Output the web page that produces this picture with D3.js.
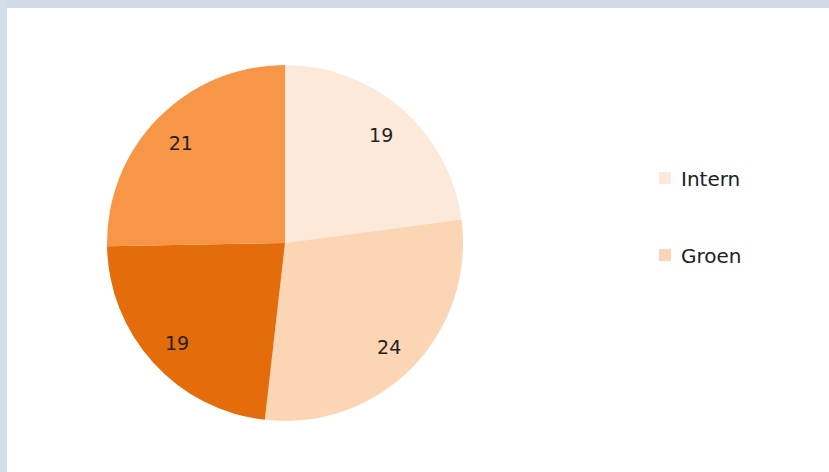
<!DOCTYPE html>
<html>
<head>
<meta charset="utf-8">
<script src="https://cdn.jsdelivr.net/npm/d3@7"></script>
<style>
  html, body { margin: 0; padding: 0; background: #ffffff; }
  svg { display: block; }
</style>
</head>
<body>
<script>
// slices in drawing order, clockwise from 12 o'clock
var categories = ['Intern', 'Groen', 'Cat3', 'Cat4'];
var values = [19, 24, 19, 21];
var colors = ['#fde9d9', '#fcd5b5', '#e46c0a', '#f79646'];
// only the first two legend entries are visible in the picture
var legendItems = ['Intern', 'Groen'];

var width = 829, height = 472;
var cx = 285, cy = 243, radius = 178;

var svg = d3.select('body').append('svg')
    .attr('width', width)
    .attr('height', height);

// frame: light blue band on top and left
svg.append('rect').attr('x', 0).attr('y', 0).attr('width', width).attr('height', height).attr('fill', '#ffffff');
svg.append('rect').attr('x', 0).attr('y', 0).attr('width', width).attr('height', 8).attr('fill', '#cfdae6');
svg.append('rect').attr('x', 0).attr('y', 0).attr('width', 7).attr('height', height).attr('fill', '#d3deea');

var pie = d3.pie().sort(null).value(function (d) { return d; });
var arc = d3.arc().innerRadius(0).outerRadius(radius);
var labelArc = d3.arc().innerRadius(radius * 0.82).outerRadius(radius * 0.82);

var g = svg.append('g').attr('transform', 'translate(' + cx + ',' + cy + ')');

var slices = g.selectAll('g.slice')
    .data(pie(values))
    .enter()
    .append('g')
    .attr('class', 'slice');

slices.append('path')
    .attr('d', arc)
    .attr('fill', function (d, i) { return colors[i]; });

slices.append('text')
    .attr('transform', function (d) {
        var c = labelArc.centroid(d);
        return 'translate(' + c[0] + ',' + (c[1] + 2) + ')';
    })
    .attr('text-anchor', 'middle')
    .attr('dominant-baseline', 'central')
    .attr('font-family', 'DejaVu Sans, sans-serif')
    .attr('font-size', 19)
    .attr('fill', '#222222')
    .text(function (d) { return d.data; });

// legend
var legend = svg.append('g').attr('transform', 'translate(659,172)');
var items = legend.selectAll('g')
    .data(legendItems)
    .enter()
    .append('g')
    .attr('transform', function (d, i) { return 'translate(0,' + i * 77 + ')'; });

items.append('rect')
    .attr('width', 12)
    .attr('height', 12)
    .attr('fill', function (d, i) { return colors[i]; });

items.append('text')
    .attr('x', 22)
    .attr('y', 7)
    .attr('dominant-baseline', 'central')
    .attr('font-family', 'DejaVu Sans, sans-serif')
    .attr('font-size', 20)
    .attr('fill', '#222222')
    .text(function (d) { return d; });
</script>
</body>
</html>
